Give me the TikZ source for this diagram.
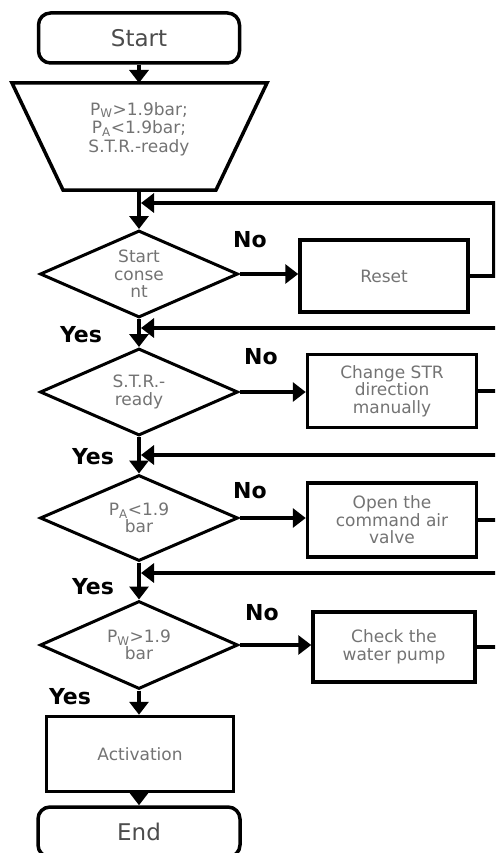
\documentclass[tikz,border=0pt]{standalone}
\usepackage{fontspec}
\setmainfont{DejaVu Sans}
\usetikzlibrary{shapes.geometric,arrows.meta}

\tikzset{
  box/.style={draw, line width=3.5pt, text=black!55, font=\fontsize{17}{17.5}\selectfont, align=center, inner sep=0pt},
  term/.style={box, rounded corners=12pt, text=black!70, font=\fontsize{23}{24}\selectfont},
  cond/.style={box, diamond, aspect=2.25, line width=3pt},
  arr/.style={line width=4pt, -{Triangle[width=19pt,length=13pt]}},
  ans/.style={font=\fontsize{22}{22}\selectfont\bfseries}
}

\begin{document}
\begin{tikzpicture}[x=1pt,y=-1pt]
    \useasboundingbox (0,0) rectangle (495,853);
    \clip (0,0) rectangle (495,853);

    % start and inputs
    \node[term, minimum width=201pt, minimum height=50pt] (start) at (139,38) {Start};
    \coordinate (tl) at (12,83);
    \coordinate (tr) at (267,83);
    \coordinate (br) at (216,190);
    \coordinate (bl) at (63,190);
    \draw[line width=3.5pt] (tl) -- (tr) -- (br) -- (bl) -- cycle;
    \node[text=black!55, font=\fontsize{17}{18.5}\selectfont, align=center] (init) at (139,129)
        {P\textsubscript{W}>1.9bar;\\P\textsubscript{A}<1.9bar;\\S.T.R.-ready};
    \coordinate (intop) at (139,83);
    \coordinate (inbot) at (139,190);

    % checks
    \node[cond, minimum width=198pt, minimum height=87pt] (d1) at (139,274) {Start\\conse\\nt};
    \node[cond, minimum width=198pt, minimum height=87pt] (d2) at (139,392) {S.T.R.-\\ready};
    \node[cond, minimum width=198pt, minimum height=86pt] (d3) at (139,518) {P\textsubscript{A}<1.9\\bar};
    \node[cond, minimum width=198pt, minimum height=88pt] (d4) at (139,645) {P\textsubscript{W}>1.9\\bar};

    % actions
    \node[box, minimum width=168pt, minimum height=72pt] (reset) at (384,276) {Reset};
    \node[box, minimum width=169pt, minimum height=73pt] (chg) at (392,391) {Change STR\\direction\\manually};
    \node[box, minimum width=169pt, minimum height=74pt] (open) at (392,520) {Open the\\command air\\valve};
    \node[box, minimum width=162pt, minimum height=70pt] (check) at (394,647) {Check the\\water pump};
    \node[box, minimum width=187pt, minimum height=75pt] (act) at (140,754) {Activation};
    \node[term, minimum width=202pt, minimum height=50pt] (end) at (139,832) {End};

    \coordinate (j1) at (141,203);
    \coordinate (j2) at (141,328);
    \coordinate (j3) at (141,455);
    \coordinate (j4) at (141,573);

    % main line
    \draw[arr] (start) -- (intop);
    \draw[arr] (inbot) -- (d1.north);
    \draw[arr] (d1.south) -- (d2.north);
    \draw[arr] (d2.south) -- (d3.north);
    \draw[arr] (d3.south) -- (d4.north);
    \draw[arr] (d4.south) -- (d4.south |- act.north);
    \draw[arr] (end.north |- act.south) -- (end.north);

    % no branches
    \draw[arr] (d1.east) -- (d1.east -| reset.west);
    \draw[arr] (d2.east) -- (d2.east -| chg.west);
    \draw[arr] (d3.east) -- (d3.east -| open.west);
    \draw[arr] (d4.east) -- (d4.east -| check.west);

    % back to the main line
    \draw[arr] (reset.east) -- ++(24,0) |- (j1);
    \draw[arr] (chg.east) -- ++(30,0) |- (j2);
    \draw[arr] (open.east) -- ++(30,0) |- (j3);
    \draw[line width=4pt] (check.east) -- ++(30,0);
    \draw[arr] (510,573) -- (j4);

    \node[ans] (no1) at (250,240) {No};
    \node[ans] (no2) at (261,357) {No};
    \node[ans] (no3) at (250,491) {No};
    \node[ans] (no4) at (262,613) {No};
    \node[ans] (yes1) at (81,335) {Yes};
    \node[ans] (yes2) at (93,457) {Yes};
    \node[ans] (yes3) at (93,587) {Yes};
    \node[ans] (yes4) at (70,697) {Yes};
\end{tikzpicture}
\end{document}
